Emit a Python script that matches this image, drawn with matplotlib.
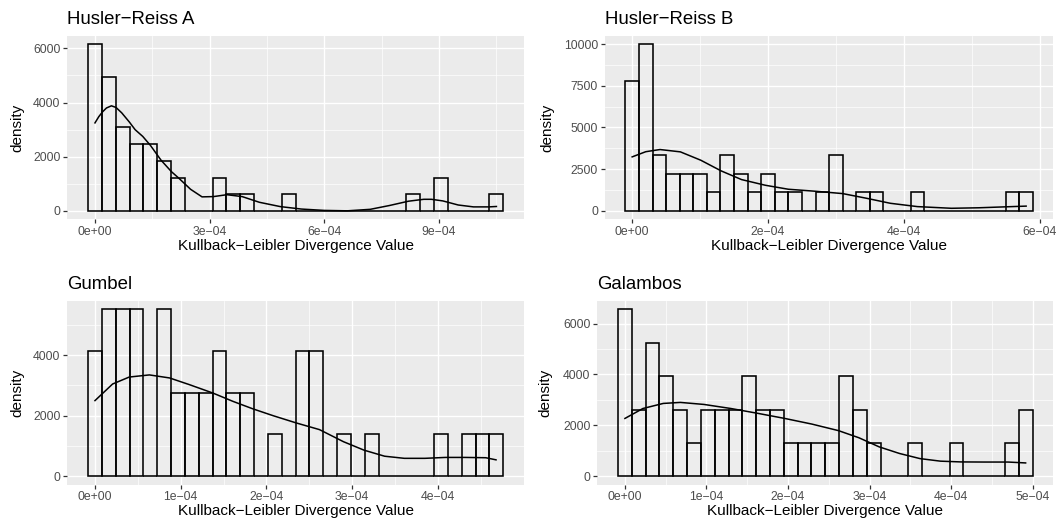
import numpy as np
import matplotlib
matplotlib.use("Agg")
import matplotlib.pyplot as plt
from matplotlib.ticker import FixedLocator, FuncFormatter

plt.rcParams['font.family'] = ['Liberation Sans', 'DejaVu Sans']

titles = ["Husler\u2212Reiss A", "Husler\u2212Reiss B", "Gumbel", "Galambos"]
x_label = "Kullback\u2212Leibler Divergence Value"
y_label = "density"

# ---- Husler-Reiss A ----
hra_density = [6160, 4930, 3080, 2460, 2460, 1850, 1230, 0, 0, 1230,
               615, 615, 0, 0, 615, 0, 0, 0, 0, 0,
               0, 0, 0, 615, 0, 1230, 0, 0, 0, 615]
hra_bin_first = 0.0
hra_bin_width = 3.62e-5
hra_curve_x = [0.0, 0.1, 0.2, 0.3, 0.43, 0.55, 0.7, 0.9, 1.05, 1.25, 1.45, 1.73, 2.0, 2.2, 2.5,
               2.8, 3.1, 3.45, 3.85, 4.3, 4.85, 5.4, 6.0, 6.6, 7.2, 7.7, 8.2, 8.6, 8.8, 9.1,
               9.5, 9.9, 10.3, 10.5]  # x 1e-4
hra_curve_y = [3250, 3480, 3660, 3800, 3880, 3820, 3620, 3280, 3000, 2750, 2420, 1870, 1450,
               1200, 800, 520, 530, 600, 530, 320, 160, 70, 20, 5, 60, 200, 360, 430, 430,
               370, 220, 150, 150, 165]
hra_xticks = [0, 3e-4, 6e-4, 9e-4]
hra_yticks = [0, 2000, 4000, 6000]

# ---- Husler-Reiss B ----
hrb_density = [7780, 10000, 3330, 2220, 2220, 2220, 1110, 3330, 2220, 1110,
               2220, 1110, 1110, 0, 1110, 3330, 0, 1110, 1110, 0,
               0, 1110, 0, 0, 0, 0, 0, 0, 1110, 1110]
hrb_bin_first = 0.0
hrb_bin_width = 2.0e-5
hrb_curve_x = [0.0, 0.2, 0.41, 0.71, 1.01, 1.31, 1.61, 1.96, 2.30, 2.70, 3.10, 3.45, 3.80,
               4.20, 4.70, 5.10, 5.45, 5.80]
hrb_curve_y = [3240, 3550, 3680, 3540, 3040, 2400, 1880, 1540, 1300, 1180, 1040, 760, 460,
               260, 160, 190, 240, 290]
hrb_xticks = [0, 2e-4, 4e-4, 6e-4]
hrb_yticks = [0, 2500, 5000, 7500, 10000]

# ---- Gumbel ----
gum_density = [4140, 5520, 5520, 5520, 0, 5520, 2760, 2760, 2760, 4140,
               2760, 2760, 0, 1380, 0, 4140, 4140, 0, 1380, 0,
               1380, 0, 0, 0, 0, 1380, 0, 1380, 1380, 1380]
gum_bin_first = 0.0
gum_bin_width = 1.615e-5
gum_curve_x = [0.0, 0.206, 0.40, 0.635, 0.87, 1.10, 1.376, 1.61, 1.84, 2.08, 2.35, 2.62,
               2.90, 3.14, 3.38, 3.61, 3.85, 4.09, 4.32, 4.56, 4.68]
gum_curve_y = [2500, 3050, 3280, 3350, 3250, 3030, 2750, 2475, 2230, 2000, 1760, 1540,
               1140, 860, 660, 590, 590, 620, 620, 610, 540]
gum_xticks = [0, 1e-4, 2e-4, 3e-4, 4e-4]
gum_yticks = [0, 2000, 4000]

# ---- Galambos ----
gal_density = [6560, 2620, 5250, 3940, 2620, 1310, 2620, 2620, 2620, 3940,
               2620, 2620, 1310, 1310, 1310, 1310, 3940, 2620, 1310, 0,
               0, 1310, 0, 0, 1310, 0, 0, 0, 1310, 2620]
gal_bin_first = 0.0
gal_bin_width = 1.695e-5
gal_curve_x = [0.0, 0.22, 0.47, 0.68, 0.97, 1.30, 1.63, 1.96, 2.29, 2.62, 2.87, 3.12, 3.37,
               3.62, 3.87, 4.12, 4.41, 4.70, 4.915]
gal_curve_y = [2270, 2660, 2860, 2900, 2820, 2660, 2470, 2270, 2050, 1790, 1510, 1150, 890,
               690, 590, 560, 555, 555, 520]
gal_xticks = [0, 1e-4, 2e-4, 3e-4, 4e-4, 5e-4]
gal_yticks = [0, 2000, 4000, 6000]

panels = [
    (hra_density, hra_bin_first, hra_bin_width, hra_curve_x, hra_curve_y, hra_xticks, hra_yticks),
    (hrb_density, hrb_bin_first, hrb_bin_width, hrb_curve_x, hrb_curve_y, hrb_xticks, hrb_yticks),
    (gum_density, gum_bin_first, gum_bin_width, gum_curve_x, gum_curve_y, gum_xticks, gum_yticks),
    (gal_density, gal_bin_first, gal_bin_width, gal_curve_x, gal_curve_y, gal_xticks, gal_yticks),
]

W, H = 1058, 525
# panel boxes in pixels: left, right, top, bottom
boxes = [(67.3, 524.0, 35.7, 219.3),
         (605.0, 1053.3, 35.7, 219.3),
         (67.3, 524.0, 301.0, 484.5),
         (597.3, 1053.3, 301.0, 484.5)]
ylabel_centre_x = [17.5, 547.5, 17.0, 545.7]

fig = plt.figure(figsize=(W / 100, H / 100), dpi=100)

TICK_COL = "#4D4D4D"
PX = 72.0 / 100.0  # points per pixel


def minor_breaks(majors, lo, hi):
    b = list(majors)
    d = b[1] - b[0]
    b = [b[0] - d] + b + [b[-1] + d]
    mids = [(b[i] + b[i + 1]) / 2 for i in range(len(b) - 1)]
    return [m for m in mids if lo <= m <= hi]


def sci_fmt(v, pos=None):
    s = f"{v:.0e}"
    return s.replace("-", "\u2212")


for i, (dens, first, width, cx, cy, xt, yt) in enumerate(panels):
    l, r, t, b = boxes[i]
    ax = fig.add_axes([l / W, 1 - b / H, (r - l) / W, (b - t) / H])
    ax.set_facecolor("#EBEBEB")
    for s in ax.spines.values():
        s.set_visible(False)

    dens = np.asarray(dens, dtype=float)
    centres = first + width * np.arange(len(dens))
    ax.bar(centres, dens, width=width, align="center",
           facecolor=(1, 1, 1, 0.15), edgecolor="black", linewidth=1.15, zorder=2)
    ax.plot(np.asarray(cx) * 1e-4, cy, color="black", linewidth=1.1, zorder=3,
            solid_joinstyle="round")

    x0 = centres[0] - width / 2
    x1 = centres[-1] + width / 2
    xr = x1 - x0
    xlo, xhi = x0 - 0.05 * xr, x1 + 0.05 * xr
    ymax = max(dens.max(), max(cy))
    ylo, yhi = -0.05 * ymax, 1.05 * ymax
    ax.set_xlim(xlo, xhi)
    ax.set_ylim(ylo, yhi)

    ax.xaxis.set_major_locator(FixedLocator(xt))
    ax.yaxis.set_major_locator(FixedLocator(yt))
    ax.xaxis.set_minor_locator(FixedLocator(minor_breaks(xt, xlo, xhi)))
    ax.yaxis.set_minor_locator(FixedLocator(minor_breaks(yt, ylo, yhi)))
    ax.xaxis.set_major_formatter(FuncFormatter(sci_fmt))
    ax.yaxis.set_major_formatter(FuncFormatter(lambda v, p: f"{int(round(v))}"))

    ax.grid(which="major", color="white", linewidth=1.0)
    ax.grid(which="minor", color="white", linewidth=0.5)
    ax.set_axisbelow(True)

    ax.tick_params(which="major", length=2.75, width=0.9, color="#333333",
                   labelsize=8.8, labelcolor=TICK_COL, pad=2.2)
    ax.tick_params(which="minor", length=0)

    # title (left aligned on panel)
    ax.annotate(titles[i], xy=(0, 1), xycoords="axes fraction",
                xytext=(0, 8.6), textcoords="offset points",
                ha="left", va="baseline", fontsize=13.4, color="black")
    # x label
    ax.annotate(x_label, xy=(0.5, 0), xycoords="axes fraction",
                xytext=(0, -31.0 * PX), textcoords="offset points",
                ha="center", va="baseline", fontsize=11, color="black")
    # y label
    ax.annotate(y_label, xy=(0, 0.5), xycoords="axes fraction",
                xytext=((ylabel_centre_x[i] - l) * PX, 0), textcoords="offset points",
                ha="center", va="center", rotation=90, fontsize=11, color="black")

fig.savefig("out.png", dpi=100, facecolor="white")
